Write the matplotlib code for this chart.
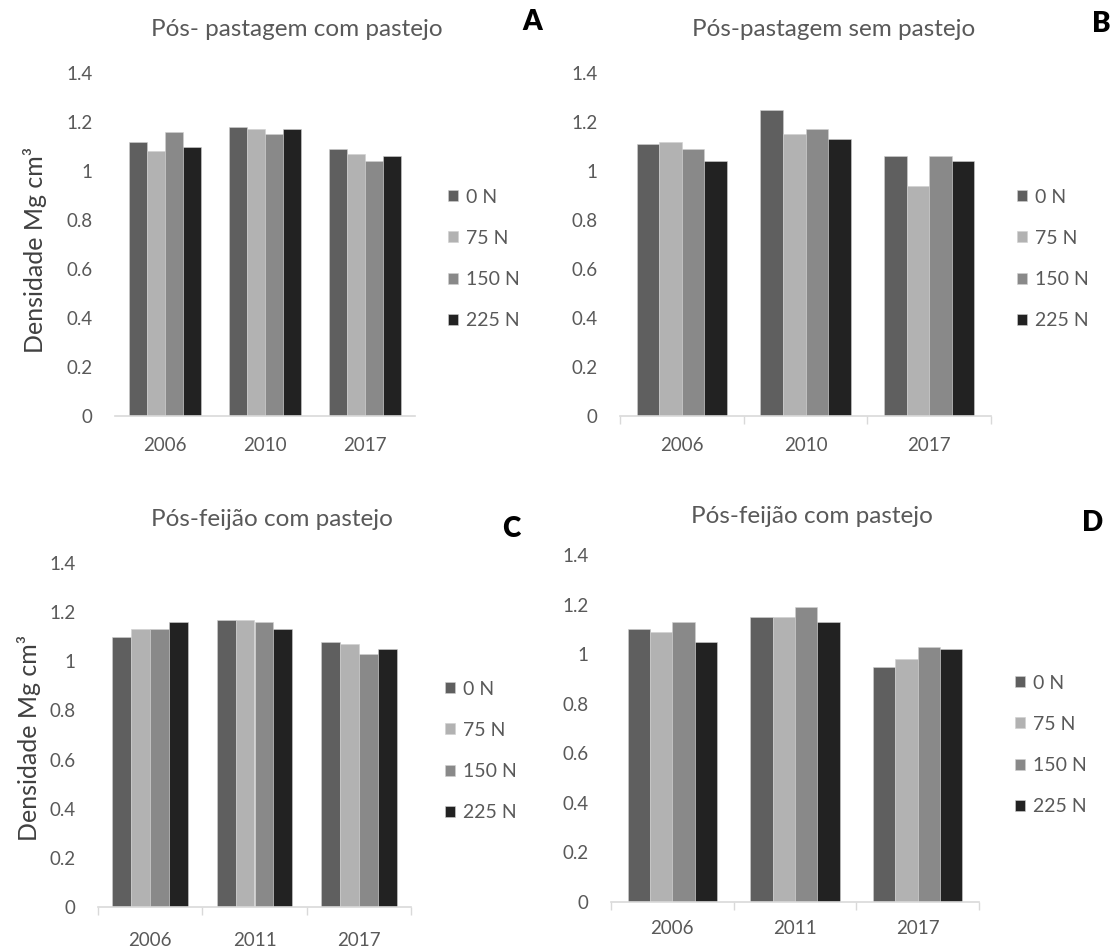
import matplotlib
matplotlib.use("Agg")
import matplotlib.pyplot as plt
import numpy as np

plt.rcParams['font.family'] = ['Lato', 'DejaVu Sans']

series = ["0 N", "75 N", "150 N", "225 N"]
colors = ["#5f5f5f", "#b2b2b2", "#898989", "#222222"]

years_A = ["2006", "2010", "2017"]
years_B = ["2006", "2010", "2017"]
years_C = ["2006", "2011", "2017"]
years_D = ["2006", "2011", "2017"]

# values per series (rows: 0N, 75N, 150N, 225N; columns: years)
vals_A = [[1.12, 1.18, 1.09],
          [1.08, 1.17, 1.07],
          [1.16, 1.15, 1.04],
          [1.10, 1.17, 1.06]]
vals_B = [[1.11, 1.25, 1.06],
          [1.12, 1.15, 0.94],
          [1.09, 1.17, 1.06],
          [1.04, 1.13, 1.04]]
vals_C = [[1.10, 1.17, 1.08],
          [1.13, 1.17, 1.07],
          [1.13, 1.16, 1.03],
          [1.16, 1.13, 1.05]]
vals_D = [[1.10, 1.15, 0.95],
          [1.09, 1.15, 0.98],
          [1.13, 1.19, 1.03],
          [1.05, 1.13, 1.02]]

titles = ["Pós- pastagem com pastejo", "Pós-pastagem sem pastejo",
          "Pós-feijão com pastejo", "Pós-feijão com pastejo"]
letters = ["A", "B", "C", "D"]
ylabel = "Densidade Mg cm³"

W, H = 1113, 947
fig = plt.figure(figsize=(W / 100, H / 100), dpi=100)

def fx(px):
    return px / W

def fy(py):
    return 1 - py / H

# axes rects in pixels: left, right, top(1.4), bottom(0)
rects = [(115, 415, 73, 416), (620, 991, 73, 416),
         (98, 411, 563, 907), (611, 979, 555, 902)]
panels = [(years_A, vals_A), (years_B, vals_B), (years_C, vals_C), (years_D, vals_D)]
title_pos = [(297, 30), (834, 30), (272, 520), (812, 516)]
letter_pos = [(532, 22), (1101, 24), (511, 529), (1093, 523)]
legend_pos = [(448, 259), (1017, 259), (445, 751), (1015, 745)]
boundary_ticks = [False, True, True, True]
xpads = [15, 15, 18, 13]

grey = "#595959"
bw = 0.182
for i, ((l, r, t, b), (yrs, vals)) in enumerate(zip(rects, panels)):
    ax = fig.add_axes([fx(l), fy(b), fx(r) - fx(l), (b - t) / H])
    x = np.arange(len(yrs))
    handles = []
    for k, (s, c) in enumerate(zip(series, colors)):
        h = ax.bar(x + (k - 1.5) * bw, vals[k], width=bw, color=c,
                   edgecolor="#d0d0d0", linewidth=0.4, label=s, zorder=2)
        handles.append(h)
    ax.set_xlim(-0.5, len(yrs) - 0.5)
    ax.set_ylim(0, 1.4)
    ax.set_yticks(np.arange(0, 1.41, 0.2))
    ax.set_yticklabels(["0", "0.2", "0.4", "0.6", "0.8", "1", "1.2", "1.4"])
    ax.set_xticks(x)
    ax.set_xticklabels(yrs)
    ax.tick_params(axis='y', length=0, pad=16, labelsize=13.5, labelcolor=grey)
    ax.tick_params(axis='x', length=0, pad=xpads[i], labelsize=13.5, labelcolor=grey)
    if boundary_ticks[i]:
        ax.set_xticks(np.arange(-0.5, len(yrs), 1.0), minor=True)
        ax.tick_params(axis='x', which='minor', length=6, color="#d9d9d9", width=1.0)
    for sp in ["top", "right", "left"]:
        ax.spines[sp].set_visible(False)
    ax.spines["bottom"].set_color("#d9d9d9")
    ax.spines["bottom"].set_linewidth(1.2)
    ax.legend(handles=handles, loc="center left",
              bbox_to_anchor=(fx(legend_pos[i][0]), fy(legend_pos[i][1])),
              bbox_transform=fig.transFigure, frameon=False, fontsize=14,
              handlelength=0.5, handleheight=0.5, handletextpad=0.45,
              labelspacing=1.25, borderpad=0, borderaxespad=0,
              labelcolor=grey)
    fig.text(fx(title_pos[i][0]), fy(title_pos[i][1]), titles[i], ha="center",
             va="center", fontsize=17.5, color=grey)
    fig.text(fx(letter_pos[i][0]), fy(letter_pos[i][1]), letters[i], ha="center",
             va="center", fontsize=20, fontweight="heavy", color="black")

fig.text(fx(35), fy(250), ylabel, rotation=90, ha="center", va="center",
         fontsize=18, color="#404040")
fig.text(fx(29), fy(738), ylabel, rotation=90, ha="center", va="center",
         fontsize=18, color="#404040")

fig.savefig("out.png", dpi=100)
